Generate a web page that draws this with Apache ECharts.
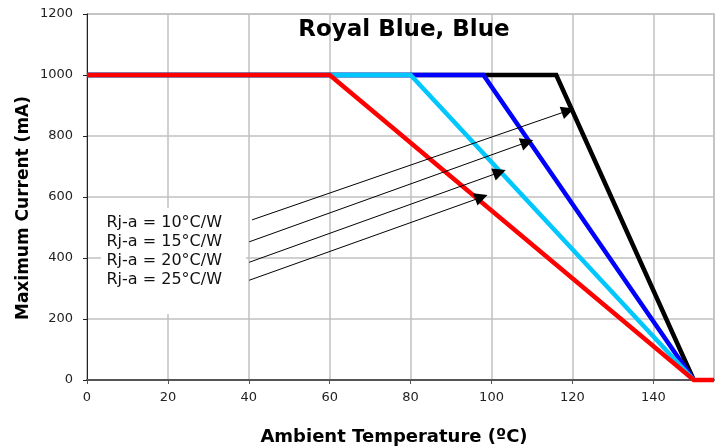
<!DOCTYPE html>
<html>
<head>
<meta charset="utf-8">
<script src="https://cdn.jsdelivr.net/npm/echarts@6/dist/echarts.min.js"></script>
<style>html,body{margin:0;padding:0;background:#fff;}#c{width:724px;height:448px;}</style>
</head>
<body>
<div id="c"></div>
<script>
const titleText = 'Royal Blue, Blue';
const xName = 'Ambient Temperature (ºC)';
const yName = 'Maximum Current (mA)';
const labels = ['Rj-a = 10°C/W', 'Rj-a = 15°C/W', 'Rj-a = 20°C/W', 'Rj-a = 25°C/W'];
const colors = ['#000000', '#0000ff', '#00c8ff', '#ff0000'];
const curve10 = [[0, 1000], [116, 1000], [150, 0]];
const curve15 = [[0, 1000], [98, 1000], [150, 0]];
const curve20 = [[0, 1000], [80, 1000], [150, 0]];
const curve25 = [[0, 1000], [60, 1000], [150, 0], [155, 0]];
const arrowStarts = [[40.8, 525], [40.1, 453], [40.1, 386], [40.1, 327]];
const arrowEnds = [[118.9, 883], [108.8, 780], [102.0, 681], [97.5, 599]];
const xTicks = {min: 0, max: 155, interval: 20};
const yTicks = {min: 0, max: 1200, interval: 200};

const FONT = 'DejaVu Sans';
const chart = echarts.init(document.getElementById('c'), null, {renderer: 'canvas'});
const curves = [curve10, curve15, curve20, curve25];

const series = curves.map((d, i) => ({
  name: labels[i],
  type: 'line',
  data: d,
  showSymbol: false,
  symbol: 'none',
  clip: false,
  z: 3 + i,
  lineStyle: {color: colors[i], width: 4.5, cap: 'butt', join: 'miter'},
  animation: false
}));

series.push({
  type: 'lines',
  coordinateSystem: 'cartesian2d',
  z: 10,
  symbol: ['none', 'triangle'],
  symbolSize: [10, 13],
  lineStyle: {color: '#000', width: 1, opacity: 1},
  itemStyle: {color: '#000'},
  data: arrowStarts.map((s, i) => ({coords: [s, arrowEnds[i]]})),
  animation: false
});

const labelY = [223, 242, 261, 280];
const graphics = [
  {type: 'rect', shape: {x: 101, y: 208, width: 145, height: 106}, style: {fill: '#fff'}, z: 20},
  {type: 'text', x: 404, y: 30, z: 21,
   style: {text: titleText, font: 'bold 23px "' + FONT + '"', fill: '#000', textAlign: 'center', textVerticalAlign: 'middle', align: 'center', verticalAlign: 'middle'}},
  {type: 'text', x: 394, y: 437, z: 21,
   style: {text: xName, font: 'bold 18px "' + FONT + '"', fill: '#000', textAlign: 'center', textVerticalAlign: 'middle', align: 'center', verticalAlign: 'middle'}},
  {type: 'text', x: 24, y: 208, rotation: Math.PI / 2, z: 21,
   style: {text: yName, font: 'bold 17px "' + FONT + '"', fill: '#000', textAlign: 'center', textVerticalAlign: 'middle', align: 'center', verticalAlign: 'middle'}}
];
labels.forEach((t, i) => {
  graphics.push({type: 'text', x: 106.5, y: labelY[i], z: 21,
    style: {text: t, font: '16px "' + FONT + '"', fill: '#111', textAlign: 'left', textVerticalAlign: 'middle', align: 'left', verticalAlign: 'middle'}});
});

chart.setOption({
  animation: false,
  backgroundColor: '#fff',
  grid: {left: 87, right: 10, top: 14, bottom: 68, show: true, borderColor: '#c0c0c0', borderWidth: 1.5, backgroundColor: 'transparent'},
  xAxis: {
    type: 'value', min: xTicks.min, max: xTicks.max, interval: xTicks.interval,
    axisLine: {show: true, lineStyle: {color: '#555', width: 2}},
    axisTick: {show: true, length: 4, lineStyle: {color: '#555', width: 1}},
    axisLabel: {fontFamily: FONT, fontSize: 13, color: '#222', margin: 11, showMaxLabel: false, formatter: v => String(v)},
    splitLine: {show: true, lineStyle: {color: '#c0c0c0', width: 1.5}}
  },
  yAxis: {
    type: 'value', min: yTicks.min, max: yTicks.max, interval: yTicks.interval,
    axisLine: {show: true, lineStyle: {color: '#222', width: 1}},
    axisTick: {show: true, length: 4, lineStyle: {color: '#222', width: 1}},
    axisLabel: {fontFamily: FONT, fontSize: 13, color: '#222', margin: 14, formatter: v => String(v)},
    splitLine: {show: true, lineStyle: {color: '#c0c0c0', width: 1.5}}
  },
  series: series,
  graphic: graphics
});
</script>
</body>
</html>
